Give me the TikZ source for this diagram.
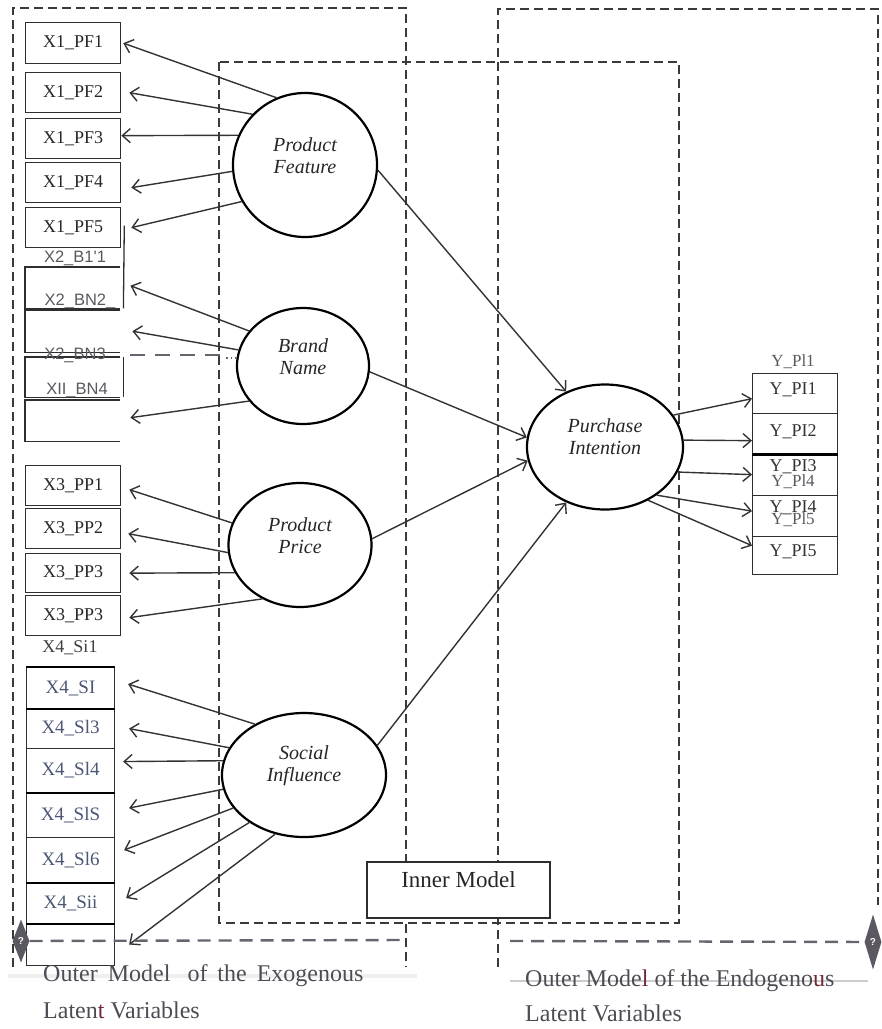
\documentclass[tikz,border=0pt]{standalone}
\usepackage{fontspec}
\setmainfont{Liberation Serif}
\newfontfamily\sansf{Liberation Sans}
\usetikzlibrary{shapes.geometric,arrows.meta}
\definecolor{framec}{HTML}{3A3A3A}
\definecolor{boxc}{HTML}{2E2E2E}
\definecolor{arrc}{HTML}{333333}
\definecolor{greyc}{HTML}{66646E}
\definecolor{ovlc}{HTML}{58585F}
\definecolor{xfour}{HTML}{4C5675}
\definecolor{outc}{HTML}{4E4B55}
\definecolor{tred}{HTML}{6E2A35}
\definecolor{diac}{HTML}{5C5862}
\definecolor{bandc}{HTML}{EFEFEF}
\tikzset{
 frame/.style={draw=framec, line width=1.6pt, dash pattern=on 9pt off 5pt},
 gdash/.style={draw=greyc, line width=2.4pt, dash pattern=on 13pt off 8pt},
 xbox/.style={draw=boxc, line width=1.3pt, minimum width=95pt, inner sep=0pt, anchor=north west, font=\fontsize{18}{18}\selectfont, text=black!85},
 sibox/.style={draw=boxc, line width=1.1pt, minimum width=88pt, inner sep=0pt, anchor=north west, font=\fontsize{19}{19}\selectfont, text=xfour},
 ybox/.style={draw=boxc, line width=1.3pt, minimum width=85pt, inner sep=0pt, anchor=north west},
 blank/.style={minimum width=95pt, inner sep=0pt, anchor=north west},
 latent/.style={ellipse, draw=black, line width=2.2pt, fill=white, inner sep=0pt},
 ltext/.style={align=center, font=\fontsize{20}{22}\selectfont\itshape, text=black!85, inner sep=0pt},
 ovl/.style={font=\sansf\fontsize{16.5}{16.5}\selectfont, text=ovlc, inner sep=0pt},
 ovls/.style={font=\fontsize{17}{17}\selectfont, text=ovlc, inner sep=0pt},
 ylab/.style={font=\fontsize{18}{18}\selectfont, text=black!80, inner sep=0pt},
 arr/.style={draw=arrc, line width=1.4pt, -{Straight Barb[length=8pt,width=14pt]}},
 thickl/.style={draw=black, line width=2.6pt},
 boxl/.style={draw=boxc, line width=1.3pt},
 qdia/.style={diamond, fill=diac, inner sep=0pt, minimum width=17pt, text=white, font=\sansf\bfseries\fontsize{10}{10}\selectfont},
 outer/.style={font=\fontsize{24}{24}\selectfont, text=outc, inner sep=0pt, anchor=west},
}
\begin{document}
\begin{tikzpicture}[x=1pt,y=-1pt]
\useasboundingbox (0,0) rectangle (882,1029);
% faint bands behind bottom captions
\draw[bandc, line width=4pt] (8,976) -- (417,976);
\draw[black!20, line width=1.6pt] (510,981) -- (868,981);
% dashed frames
\draw[frame] (13,967) -- (13,8) -- (406,8) -- (406,967);
\draw[frame] (498,967) -- (498,9) -- (878,9) -- (878,905);
\draw[frame] (219,62) rectangle (679,923);

% Product Feature indicators
\node[xbox, minimum height=41pt] (pf1) at (25,22) {X1\_PF1};
\node[xbox, minimum height=40pt] (pf2) at (25,72) {X1\_PF2};
\node[xbox, minimum height=40pt] (pf3) at (25,118) {X1\_PF3};
\node[xbox, minimum height=40pt] (pf4) at (25,162) {X1\_PF4};
\node[xbox, minimum height=40pt] (pf5) at (25,207) {X1\_PF5};

% Brand Name indicators
\node[blank, minimum height=41pt] (bn1) at (25,267) {};
\node[blank, minimum height=42pt] (bn2) at (25,310) {};
\node[blank, minimum height=40pt] (bn3) at (25,357) {};
\node[blank, minimum height=41pt] (bn4) at (25,400) {};
\foreach \b in {bn1,bn2,bn3,bn4}
  \draw[boxl] (\b.north east) -- (\b.north west) -- (\b.south west) -- (\b.south east);
\draw[boxl] ([xshift=3pt,yshift=2pt]pf5.east) -- ([xshift=3pt]bn1.south east);
\draw[boxl] ([xshift=3pt]bn3.north east) -- ([xshift=3pt]bn3.south east);
\node[ovl] (tb1) at (75,258) {X2\_B1'1};
\node[ovl] (tb2) at (80,301) {X2\_BN2\_};
\node[ovl] (tb3) at (75,355) {X2\_BN3};
\node[ovl] (tb4) at (77,390) {XII\_BN4};

% Product Price indicators
\node[xbox, minimum height=40pt] (pp1) at (25,465) {X3\_PP1};
\node[xbox, minimum height=40pt] (pp2) at (25,508) {X3\_PP2};
\node[xbox, minimum height=39pt] (pp3) at (25,553) {X3\_PP3};
\node[xbox, minimum height=40pt] (pp4) at (25,595) {X3\_PP3};

% Social Influence indicators
\node[ovls, text=black!75, font=\fontsize{18}{18}\selectfont] (tsi) at (70,648) {X4\_Si1};
\node[sibox, minimum height=41pt] (si1) at (26,667) {X4\_SI};
\node[sibox, minimum height=40pt] (si2) at (26,708) {X4\_Sl3};
\node[sibox, minimum height=44pt] (si3) at (26,748) {X4\_Sl4};
\node[sibox, minimum height=45pt] (si4) at (26,792) {X4\_SlS};
\node[sibox, minimum height=45pt] (si5) at (26,837) {X4\_Sl6};
\node[sibox, minimum height=41pt] (si6) at (26,882) {X4\_Sii};
\node[sibox, minimum height=42pt] (si7) at (26,923) {};
\draw[thickl, line width=1.8pt] (si1.north west) -- (si1.north east);
\foreach \b in {si1,si3,si5,si6}
  \draw[thickl] (\b.south west) -- (\b.south east);

% Purchase Intention indicators
\node[ybox, minimum height=40pt] (y1) at (752,373) {};
\node[ybox, minimum height=40pt] (y2) at (752,413) {};
\node[ybox, minimum height=42pt] (y3) at (752,453) {};
\node[ybox, minimum height=41pt] (y4) at (752,495) {};
\node[ybox, minimum height=38pt] (y5) at (752,536) {};
\draw[thickl] (y2.south west) -- (y2.south east);
\node[ovls] (ty0) at (793,362) {Y\_Pl1};
\node[ylab] (ty1) at (793,390) {Y\_PI1};
\node[ylab] (ty2) at (793,432) {Y\_PI2};
\node[ylab] (ty3) at (793,467) {Y\_PI3};
\node[ovls] (ty3b) at (793,482) {Y\_Pl4};
\node[ylab] (ty4) at (793,508) {Y\_PI4};
\node[ovls] (ty4b) at (793,520) {Y\_Pl5};
\node[ylab] (ty5) at (793,552) {Y\_PI5};

% latent variables
\node[latent, minimum width=144pt, minimum height=144pt] (pf) at (305,165) {};
\node[ltext] (pft) at (305,156) {Product\\Feature};
\node[latent, minimum width=132pt, minimum height=116pt] (bn) at (303,366) {};
\node[ltext] (bnt) at (303,357) {Brand\\Name};
\node[latent, minimum width=143pt, minimum height=124pt] (pp) at (300,545) {};
\node[ltext] (ppt) at (300,536) {Product\\Price};
\node[latent, minimum width=164pt, minimum height=124pt] (si) at (304,775) {};
\node[ltext] (sit) at (304,766) {Social\\Influence};
\node[latent, minimum width=156pt, minimum height=125pt] (pi) at (605,447) {};
\node[ltext] (pit) at (605,437) {Purchase\\Intention};

% grey dashed line through Brand Name
\coordinate (dl1) at (130,355);
\coordinate (dl2) at (222,355);
\coordinate (dl3) at (226,358);
\coordinate (dl4) at (238,358);
\draw[greyc, line width=2pt, dash pattern=on 15pt off 10pt] (dl1) -- (dl2);
\draw[greyc, line width=1.4pt, dash pattern=on 1.5pt off 3pt] (dl3) -- (dl4);

% outer model arrows (exogenous)
\draw[arr] (pf.113) -- ([xshift=2pt]pf1.east);
\draw[arr] (pf.136) -- ([xshift=8pt]pf2.east);
\draw[arr] (pf.156) -- ([yshift=3pt]pf3.east);
\draw[arr] (pf.185) -- ([xshift=10pt,yshift=-5pt]pf4.east);
\draw[arr] (pf.210) -- ([xshift=10pt]pf5.east);
\draw[arr] (bn.147) -- ([xshift=10pt,yshift=2pt]bn1.east);
\draw[arr] (bn.166) -- ([xshift=12pt]bn2.east);
\draw[arr] (bn.213) -- ([xshift=10pt,yshift=3pt]bn4.east);
\draw[arr] (pp.162) -- ([xshift=8pt,yshift=-4pt]pp1.east);
\draw[arr] (pp.186) -- ([xshift=7pt,yshift=-5pt]pp2.east);
\draw[arr] (pp.203) -- ([xshift=8pt]pp3.east);
\draw[arr] (pp.235) -- ([xshift=8pt,yshift=-2pt]pp4.east);
\draw[arr] (si.134) -- ([xshift=13pt,yshift=4pt]si1.east);
\draw[arr] (si.160) -- ([xshift=14pt]si2.east);
\draw[arr] (si.170) -- ([xshift=8pt,yshift=9pt]si3.east);
\draw[arr] (si.190) -- ([xshift=14pt,yshift=7pt]si4.east);
\draw[arr] (si.205) -- ([xshift=9pt,yshift=10pt]si5.east);
\draw[arr] (si.221) -- ([xshift=11pt,yshift=5pt]si6.east);
\draw[arr] (si.244) -- ([xshift=14pt]si7.east);

% inner model arrows
\draw[arr] (pf.-4) -- (pi.125);
\draw[arr] (bn.-5) -- (pi.173);
\draw[arr] (pp.5) -- (pi.190);
\draw[arr] (si.22) -- (pi.235);

% outer model arrows (endogenous)
\draw[arr] (pi.25) -- ([yshift=-5pt]y1.west);
\draw[arr] (pi.5) -- ([yshift=-7pt]y2.west);
\draw[arr] (pi.-19) -- (y3.west);
\draw[arr] (pi.-43) -- ([yshift=5pt]y4.west);
\draw[arr] (pi.-51) -- ([yshift=10pt]y5.west);

% inner model label box
\node[draw=boxc, line width=1.8pt, fill=white, minimum width=183pt, minimum height=56pt, inner sep=0pt, text height=16pt, text depth=21pt, font=\fontsize{23}{23}\selectfont, text=black!85] (inner) at (458.5,890) {Inner Model};

% grey dashed lines with diamonds
\node[qdia, minimum height=43pt] (dL) at (21,941) {?};
\node[qdia, minimum height=55pt] (dR) at (873,942) {?};
\coordinate (gL) at (403,940);
\coordinate (gR) at (510,941);
\draw[gdash] (dL) -- (gL);
\draw[gdash] (gR) -- (dR);

% captions
\node[outer] (oe1) at (43,976) {Outer\hspace{10pt}Model\hspace{17pt}of\hspace{10pt}the\hspace{10pt}Exogenous};
\node[outer] (oe2) at (43,1010) {Laten\textcolor{tred}{t} Variables};
\node[outer] (on1) at (525,981) {Outer Mode\textcolor{tred}{l} of the Endogeno\textcolor{tred}{u}s};
\node[outer] (on2) at (525,1013) {Latent Variables};
\end{tikzpicture}
\end{document}
